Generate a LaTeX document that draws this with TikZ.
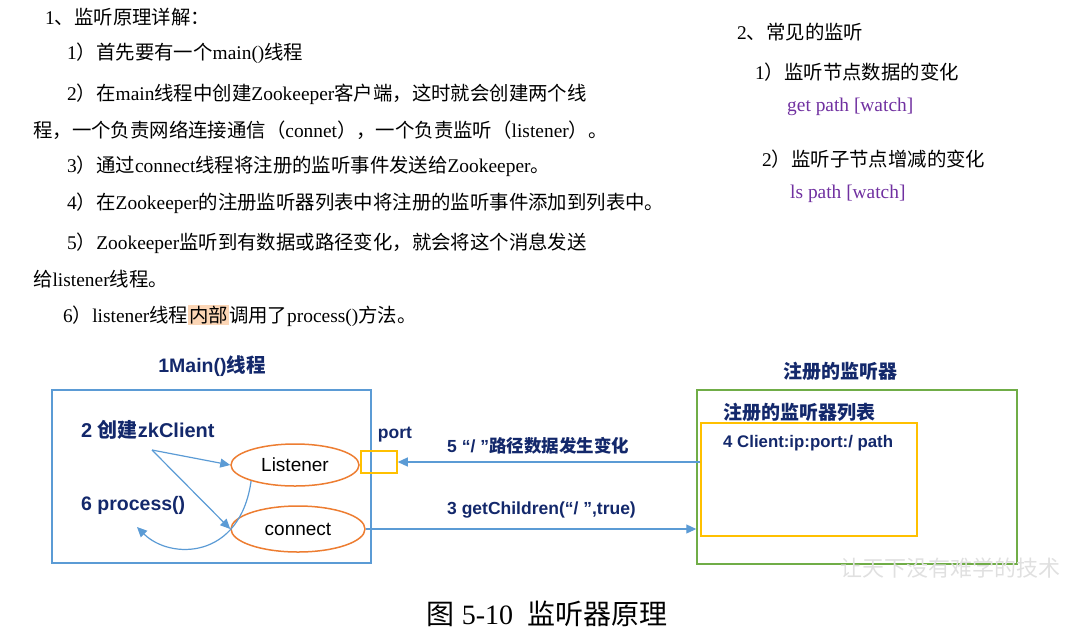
\documentclass[tikz,border=0pt]{standalone}
\usepackage{tikz}
\usepackage{fontspec}
\setmainfont{Liberation Serif}
\newfontfamily\zhfont{Noto Sans CJK SC}
\newfontfamily\arialfont{Liberation Sans}
\usetikzlibrary{shapes.geometric,arrows.meta}
\definecolor{navy}{HTML}{13286B}
\definecolor{boxblue}{HTML}{5B9BD5}
\definecolor{ellorange}{HTML}{ED7D31}
\definecolor{portyellow}{HTML}{FFC000}
\definecolor{boxgreen}{HTML}{70AD47}
\definecolor{cmdpurple}{HTML}{7030A0}
\definecolor{hlpeach}{HTML}{FBD5B5}
\newcommand\zh[1]{{\zhfont #1}}
\newcommand\hl[1]{{\setlength\fboxsep{1pt}\colorbox{hlpeach}{\zh{#1}}}}

\begin{document}
\begin{tikzpicture}[x=1pt,y=-1pt,
  body/.style={anchor=west,inner sep=0pt,font=\fontsize{19.4}{22}\selectfont},
  cmd/.style={body,text=cmdpurple},
  lbl/.style={text=navy,inner sep=0pt,font=\arialfont\bfseries\fontsize{#1}{#1}\selectfont},
  lbl/.default=17.5,
  thread/.style={ellipse,draw=ellorange,line width=1.5pt,inner sep=0pt,font=\arialfont\fontsize{19}{19}\selectfont},
  arr/.style={boxblue,line width=1.2pt,-{Triangle[length=10pt,width=9pt]}}]
\useasboundingbox (0,0) rectangle (1075,643);

\node[body] (l1) at (45,17) {1\zh{、监听原理详解：}};
\node[body] (l2) at (67,53) {1\zh{）首先要有一个}main()\zh{线程}};
\node[body] (l3) at (67,94) {2\zh{）在}main\zh{线程中创建}Zookeeper\zh{客户端，这时就会创建两个线}};
\node[body] (l4) at (33,130) {\zh{程，一个负责网络连接通信（}connet\zh{），一个负责监听（}listener\zh{）。}};
\node[body] (l5) at (67,166) {3\zh{）通过}connect\zh{线程将注册的监听事件发送给}Zookeeper\zh{。}};
\node[body] (l6) at (67,203) {4\zh{）在}Zookeeper\zh{的注册监听器列表中将注册的监听事件添加到列表中。}};
\node[body] (l7) at (67,243) {5\zh{）}Zookeeper\zh{监听到有数据或路径变化，就会将这个消息发送}};
\node[body] (l8) at (33,279) {\zh{给}listener\zh{线程。}};
\node[body] (l9) at (63,316) {6\zh{）}listener\zh{线程}\hl{内部}\zh{调用了}process()\zh{方法。}};

\node[body] (r1) at (737,32) {2\zh{、常见的监听}};
\node[body] (r2) at (755,72) {1\zh{）监听节点数据的变化}};
\node[cmd] (r3) at (787,107) {get path [watch]};
\node[body] (r4) at (762,159) {2\zh{）监听子节点增减的变化}};
\node[cmd] (r5) at (790,194) {ls path [watch]};

\node[lbl=19.5] (maintitle) at (212,366) {1Main()\zh{线程}};
\node[draw=boxblue,line width=1.5pt,minimum width=319pt,minimum height=173pt] (mainbox) at (211.5,476.5) {};
\node[lbl=20,anchor=west] (zkclient) at (81,430) {2 \zh{创建}zkClient};
\node[lbl=19.5,anchor=west] (process) at (81,505) {6 process()};
\node[thread,minimum width=128pt,minimum height=42pt] (listener) at (295,465) {Listener};
\node[thread,minimum width=134pt,minimum height=46pt] (connect) at (298,529) {connect};
\node[draw=portyellow,line width=1.5pt,minimum width=36pt,minimum height=22pt,inner sep=0pt] (port) at (379,462) {};
\node[lbl] (portlbl) at (395,435) {port};

\node[lbl=19] (regtitle) at (840,371) {\zh{注册的监听器}};
\node[draw=boxgreen,line width=1.5pt,minimum width=320pt,minimum height=174pt] (regbox) at (857,477) {};
\node[lbl=19,anchor=west] (listtitle) at (723,412) {\zh{注册的监听器列表}};
\node[draw=portyellow,line width=1.5pt,minimum width=216pt,minimum height=113pt] (listbox) at (809,479.5) {};
\node[lbl=16.8,anchor=west] (entry) at (723,443) {4 Client:ip:port:/ path};

\node[lbl,anchor=west] (changelbl) at (447,446) {5 “/ ”\zh{路径数据发生变化}};
\node[lbl,anchor=west] (getlbl) at (447,510) {3 getChildren(“/ ”,true)};

\coordinate (fork) at (152,450);
\coordinate (back) at (137,527);
\draw[arr] (fork) -- (listener.west);
\draw[arr] (fork) -- (connect.west);
\draw[arr] (listener.200) .. controls (240,560) and (170,560) .. (back);
\draw[arr] (listbox.west |- port.east) -- (port.east);
\draw[arr] (connect.east) -- (regbox.west |- connect.east);

\node[anchor=west,inner sep=0pt,text=black!12,font=\zhfont\fontsize{22}{22}\selectfont] (mark) at (840,568) {让天下没有难学的技术};
\node[inner sep=0pt,font=\fontsize{28}{30}\selectfont] (caption) at (547,614) {\zh{图} 5-10\ \ \zh{监听器原理}};
\end{tikzpicture}
\end{document}
